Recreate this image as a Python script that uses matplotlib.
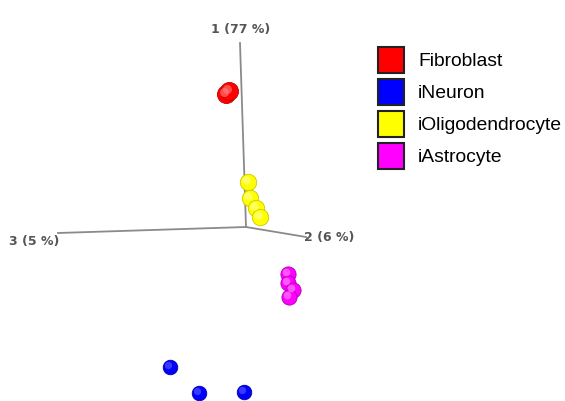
import numpy as np
import matplotlib
matplotlib.use('Agg')
import matplotlib.pyplot as plt
from matplotlib.patches import Rectangle

# projected (screen) coordinates of the 3D PCA scores
groups = ['Fibroblast', 'iNeuron', 'iOligodendrocyte', 'iAstrocyte']
colori = ['#ff0000', '#0000ff', '#ffff00', '#ff00ff']
scuri = ['#c00000', '#0000b0', '#c8c800', '#b000b0']
chiari = ['#ff8080', '#6060ff', '#ffffa0', '#ff90ff']

fib_x = [226, 229]
fib_y = [94, 91]
neu_x = [170, 199, 244]
neu_y = [367, 393, 392]
oli_x = [248, 250, 256, 260]
oli_y = [182, 198, 208, 217]
ast_x = [288, 288, 293, 289]
ast_y = [274, 283, 290, 297]

# projected axes: origin and end points
orig = (246, 227)
ax_end = {'1 (77 %)': (240, 43), '2 (6 %)': (306, 237), '3 (5 %)': (58, 233)}
lab_pos = {'1 (77 %)': (241, 30), '2 (6 %)': (329, 238), '3 (5 %)': (34, 241)}

fig = plt.figure(figsize=(5.65, 4.01), dpi=100)
ax = fig.add_axes([0, 0, 1, 1])
ax.set_xlim(0, 565)
ax.set_ylim(401, 0)
ax.axis('off')

for k in ax_end:
    ex, ey = ax_end[k]
    ax.plot([orig[0], ex], [orig[1], ey], color='#8a8a8a', lw=1.3, zorder=1)
    lx, ly = lab_pos[k]
    ax.text(lx, ly, k, ha='center', va='center', fontsize=9, color='#555555',
            fontweight='bold', family='DejaVu Sans', zorder=2)

dati = [(fib_x, fib_y, 170), (neu_x, neu_y, 110), (oli_x, oli_y, 140), (ast_x, ast_y, 120)]
for i, (xs, ys, s) in enumerate(dati):
    xs = np.array(xs, dtype=float)
    ys = np.array(ys, dtype=float)
    ax.scatter(xs, ys, s=s, c=colori[i], edgecolors=scuri[i], linewidths=0.6, zorder=3)
    ax.scatter(xs - 1.5, ys - 1.5, s=s * 0.25, c=chiari[i], edgecolors='none', alpha=0.6, zorder=4)

# legend
for i, g in enumerate(groups):
    y0 = 47 + 32 * i
    ax.add_patch(Rectangle((378, y0), 26, 26, facecolor=colori[i], edgecolor='#222222', lw=1.5, zorder=5))
    ax.text(418, y0 + 15, g, ha='left', va='center', fontsize=13.9, family='Liberation Sans', zorder=5)

plt.savefig('out.png', dpi=100)
